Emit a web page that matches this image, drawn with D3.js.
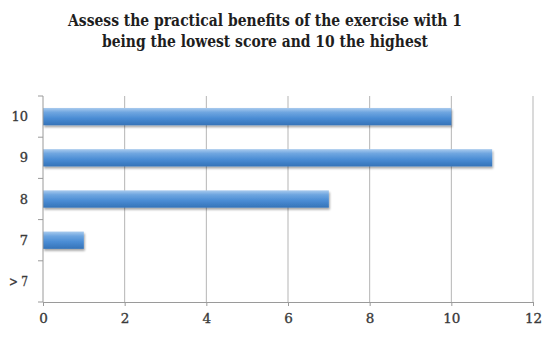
<!DOCTYPE html>
<html><head><meta charset="utf-8">
<script src="https://cdn.jsdelivr.net/npm/d3@7"></script>
<style>body{margin:0;background:#fff}</style>
</head><body>
<script>
const categories = ["10", "9", "8", "7", "> 7"];
const values = [10, 11, 7, 1, 0];
const xTicks = [0, 2, 4, 6, 8, 10, 12];
const titleLines = ["Assess the practical benefits of the exercise with 1", "being the lowest score and 10 the highest"];

const W = 550, H = 338;
const m = {left: 43, right: 17, top: 96, bottom: 36};
const svg = d3.select("body").append("svg").attr("width", W).attr("height", H);
const defs = svg.append("defs");
const g1 = defs.append("linearGradient").attr("id", "bg").attr("x1", 0).attr("y1", 0).attr("x2", 0).attr("y2", 1);
[["0%", "#a9cbee"], ["25%", "#6fa6e0"], ["60%", "#4a8cd4"], ["100%", "#3573b8"]].forEach(([o, c]) => g1.append("stop").attr("offset", o).attr("stop-color", c));
const f = defs.append("filter").attr("id", "sh").attr("x", "-5%").attr("y", "-30%").attr("width", "115%").attr("height", "190%");
f.append("feGaussianBlur").attr("in", "SourceAlpha").attr("stdDeviation", 1.2);
f.append("feOffset").attr("dx", 1).attr("dy", 1.5).attr("result", "o");
f.append("feComponentTransfer").append("feFuncA").attr("type", "linear").attr("slope", 0.35);
const mg = f.append("feMerge"); mg.append("feMergeNode"); mg.append("feMergeNode").attr("in", "SourceGraphic");

const x = d3.scaleLinear().domain([0, 12]).range([m.left, W - m.right]);
const y = d3.scaleBand().domain(categories).range([m.top, H - m.bottom]).paddingInner(0.58).paddingOuter(0.29);

const font = "'DejaVu Serif', 'Liberation Serif', serif";
const titleW = [394, 326];
svg.append("g").selectAll("text").data(titleLines).join("text")
  .attr("x", 265).attr("y", (d, i) => 26 + i * 21).attr("text-anchor", "middle")
  .attr("font-family", font).attr("font-weight", "bold").attr("font-size", 16).attr("fill", "#1e1e1e")
  .attr("textLength", (d, i) => titleW[i]).attr("lengthAdjust", "spacingAndGlyphs").text(d => d);

// gridlines
svg.append("g").selectAll("line").data(xTicks.slice(1)).join("line")
  .attr("x1", d => x(d)).attr("x2", d => x(d)).attr("y1", m.top).attr("y2", H - m.bottom)
  .attr("stroke", "#b5b5b5").attr("stroke-width", 1);

// bars
svg.append("g").selectAll("rect").data(values.map((v, i) => ({c: categories[i], v}))).join("rect")
  .attr("x", x(0)).attr("y", d => y(d.c)).attr("width", d => x(d.v) - x(0)).attr("height", y.bandwidth())
  .attr("fill", "url(#bg)").attr("filter", "url(#sh)");

// x axis
const xa = svg.append("g").attr("transform", `translate(0,${H - m.bottom})`)
  .call(d3.axisBottom(x).tickValues(xTicks).tickSize(4).tickPadding(7));
xa.select(".domain").attr("stroke", "#9a9a9a");
xa.selectAll(".tick line").attr("stroke", "#9a9a9a");
xa.selectAll("text").attr("font-family", font).attr("font-size", 13.5).attr("fill", "#3a3a3a")
  .attr("stroke", "#3a3a3a").attr("stroke-width", 0.35);

// y axis
const yEdges = d3.range(categories.length + 1).map(i => m.top + i * (H - m.bottom - m.top) / categories.length);
const ya = svg.append("g");
ya.append("line").attr("x1", x(0)).attr("x2", x(0)).attr("y1", m.top).attr("y2", H - m.bottom).attr("stroke", "#9a9a9a");
ya.selectAll("line.t").data(yEdges).join("line").attr("class", "t")
  .attr("x1", x(0) - 5).attr("x2", x(0)).attr("y1", d => d).attr("y2", d => d).attr("stroke", "#9a9a9a");
ya.selectAll("text").data(categories).join("text")
  .attr("x", x(0) - 15).attr("y", d => y(d) + y.bandwidth() / 2).attr("dy", "0.35em").attr("text-anchor", "end")
  .attr("font-family", font).attr("font-size", 13).attr("fill", "#3a3a3a")
  .attr("stroke", "#3a3a3a").attr("stroke-width", 0.35)
  .attr("textLength", d => d.length > 2 ? 19 : null).attr("lengthAdjust", "spacingAndGlyphs").text(d => d);
</script>
</body></html>
